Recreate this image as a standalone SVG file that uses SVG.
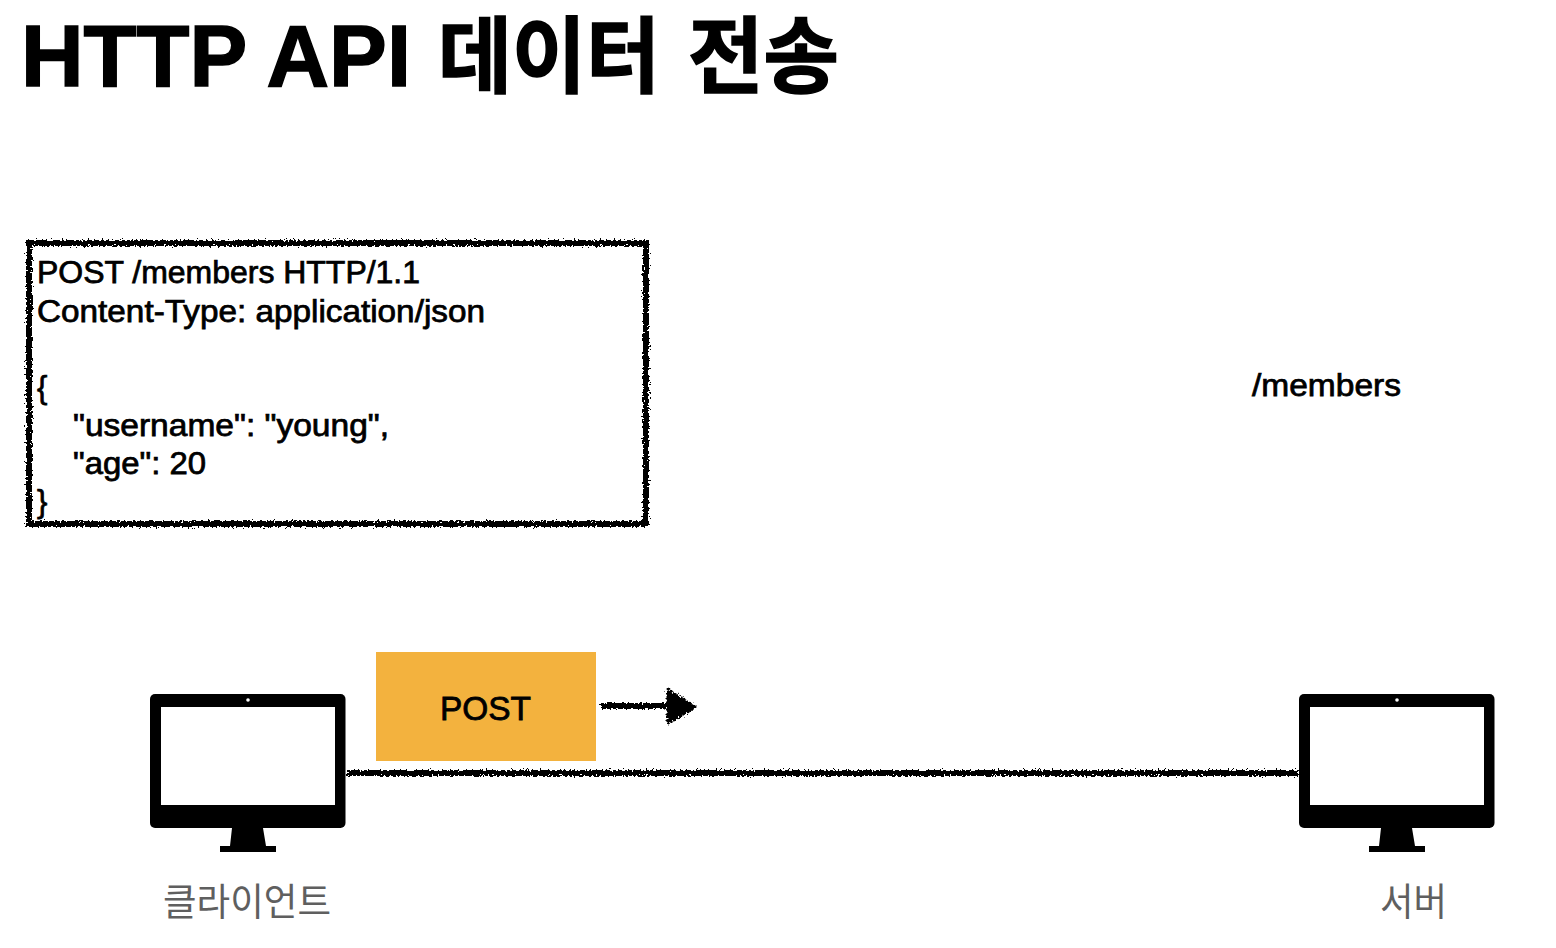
<svg xmlns="http://www.w3.org/2000/svg" width="1556" height="948" viewBox="0 0 1556 948">
<style>
text{font-family:"Liberation Sans","Noto Sans CJK KR",sans-serif;fill:#000}
.b{font-size:31px;stroke:#000;stroke-width:.75px}
.g{font-size:37.500px;fill:#5f5f5f}
.t{font-size:88px;font-weight:700;stroke:#000;stroke-width:1.500px}
.k{font-size:83px}
</style>
<defs>
<filter id="rough" x="10" y="225" width="655" height="320" filterUnits="userSpaceOnUse">
<feTurbulence type="fractalNoise" baseFrequency=".5" numOctaves="2" seed="4"/>
<feDisplacementMap in="SourceGraphic" scale="7" xChannelSelector="R" yChannelSelector="G"/>
</filter>
<filter id="roughLine" x="340" y="760" width="970" height="26" filterUnits="userSpaceOnUse">
<feTurbulence type="fractalNoise" baseFrequency=".5" numOctaves="2" seed="4"/>
<feDisplacementMap in="SourceGraphic" scale="7" xChannelSelector="R" yChannelSelector="G"/>
</filter>
<filter id="roughArrow" x="590" y="680" width="115" height="50" filterUnits="userSpaceOnUse">
<feTurbulence type="fractalNoise" baseFrequency=".5" numOctaves="2" seed="7"/>
<feDisplacementMap in="SourceGraphic" scale="7" xChannelSelector="R" yChannelSelector="G"/>
</filter>
<g id="monitor">
<rect x="0" y="0" width="195.500" height="134" rx="5" fill="#000"/>
<rect x="11" y="13" width="174" height="98" fill="#fff"/>
<circle cx="98" cy="6" r="1.800" fill="#fff"/>
<path d="M82 134H113L116 152H126V158H70V152H80Z" fill="#000"/>
</g>
</defs>
<text id="title" y="86"><tspan class="t" x="21" textLength="390" lengthAdjust="spacingAndGlyphs">HTTP API</tspan><tspan class="t k" x="438" textLength="222" lengthAdjust="spacingAndGlyphs">데이터</tspan><tspan class="t k" x="688" textLength="151" lengthAdjust="spacingAndGlyphs">전송</tspan></text>
<g id="request">
<rect x="29" y="243" width="617" height="281" fill="#fff" stroke="#000" stroke-width="6" filter="url(#rough)"/>
<text class="b" x="37" y="283" textLength="383" lengthAdjust="spacingAndGlyphs">POST /members HTTP/1.1</text>
<text class="b" x="37" y="322" textLength="448" lengthAdjust="spacingAndGlyphs">Content-Type: application/json</text>
<text class="b" x="37" y="398">{</text>
<text class="b" x="73" y="436" textLength="316" lengthAdjust="spacingAndGlyphs">"username": "young",</text>
<text class="b" x="73" y="474" textLength="133" lengthAdjust="spacingAndGlyphs">"age": 20</text>
<text class="b" x="37" y="512">}</text>
</g>
<g id="path-label"><text class="b" x="1252" y="396" textLength="149" lengthAdjust="spacingAndGlyphs">/members</text></g>
<g id="client">
<use href="#monitor" x="150" y="694"/>
<text class="g" x="163" y="915" textLength="168" lengthAdjust="spacingAndGlyphs">클라이언트</text>
</g>
<g id="server">
<use href="#monitor" x="1299" y="694"/>
<text class="g" x="1380" y="915" textLength="67" lengthAdjust="spacingAndGlyphs">서버</text>
</g>
<g id="method">
<rect x="376" y="652" width="220" height="109" fill="#f3b23e"/>
<text x="440" y="720" font-size="34" stroke="#000" stroke-width=".8" textLength="91" lengthAdjust="spacingAndGlyphs">POST</text>
</g>
<g id="connectors">
<path d="M347 773H1298" fill="none" stroke="#000" stroke-width="6" filter="url(#roughLine)"/>
<g filter="url(#roughArrow)">
<path d="M601 706H668" fill="none" stroke="#000" stroke-width="6"/>
<path d="M668 690L695 707L668 723Z" fill="#000" stroke="#000" stroke-width="3" stroke-linejoin="round"/>
</g>
</g>
</svg>
